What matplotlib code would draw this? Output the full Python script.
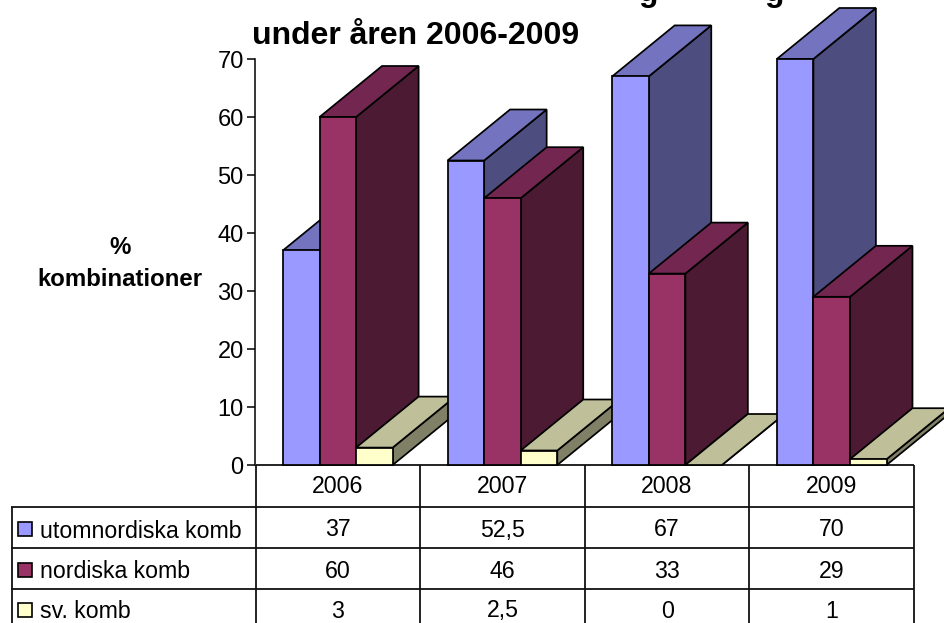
import matplotlib
matplotlib.use("Agg")
import matplotlib.pyplot as plt
from matplotlib.patches import Polygon, Rectangle

plt.rcParams['font.family'] = ['Liberation Sans', 'DejaVu Sans']

years = ['2006', '2007', '2008', '2009']
series_names = ['utomnordiska komb', 'nordiska komb', 'sv. komb']
utomnordiska = [37, 52.5, 67, 70]
nordiska = [60, 46, 33, 29]
svenska = [3, 2.5, 0, 1]
cell_labels = [['37', '52,5', '67', '70'], ['60', '46', '33', '29'], ['3', '2,5', '0', '1']]
series_values = [utomnordiska, nordiska, svenska]
front_colors = ['#9999FF', '#993366', '#FFFFCC']
top_colors = ['#7373BF', '#732650', '#BFBF99']
side_colors = ['#4D4D80', '#4D1A33', '#808066']
title_line = 'under åren 2006-2009'
ylabel_lines = ['%', 'kombinationer']

W, H = 945, 623
fig = plt.figure(figsize=(W / 100, H / 100), dpi=100, facecolor='white')

# pixel-space layer: table, labels, title
bg = fig.add_axes([0, 0, 1, 1], zorder=1)
bg.set_xlim(0, W)
bg.set_ylim(H, 0)
bg.axis('off')

# plot axes: x in categories, y in percent
L, R, T, B = 255.5, 914, 59, 465
ax = fig.add_axes([L / W, 1 - B / H, (R - L) / W, (B - T) / H], zorder=2)
ax.patch.set_alpha(0)
ax.set_xlim(0, 4)
ax.set_ylim(0, 70)
for s in ['top', 'right', 'bottom']:
    ax.spines[s].set_visible(False)
ax.spines['left'].set_linewidth(1.1)
ax.set_xticks([])
ax.set_yticks(range(0, 71, 10))
ax.tick_params(axis='y', length=5.5, width=1.1, labelsize=17, pad=3)

bar_w = 1 / 4.5
gap = bar_w * 0.75
dx = 62.5 / ((R - L) / 4)
dy = 51 / ((B - T) / 70)
edge = dict(edgecolor='black', linewidth=1.25, clip_on=False, joinstyle='miter')
z = 3
for c in range(len(years)):
    for s, vals in enumerate(series_values):
        x0 = c + gap + s * bar_w
        x1 = x0 + bar_w
        v = vals[c]
        ax.add_patch(Polygon([(x1, 0), (x1 + dx, dy), (x1 + dx, v + dy), (x1, v)],
                             facecolor=side_colors[s], zorder=z, **edge))
        ax.add_patch(Polygon([(x0, v), (x1, v), (x1 + dx, v + dy), (x0 + dx, v + dy)],
                             facecolor=top_colors[s], zorder=z, **edge))
        if v > 0:
            ax.bar(x0, v, width=bar_w, align='edge', color=front_colors[s], zorder=z, **edge)
        z += 1

# table
col_x = [L + i * (R - L) / 4 for i in range(5)]
row_y = [465, 507, 548, 589]
line = dict(color='#111111', lw=1.3, solid_capstyle='butt')
bg.plot([col_x[0], col_x[-1]], [row_y[0]] * 2, **line)
for y in row_y[1:]:
    bg.plot([11, col_x[-1]], [y, y], **line)
for x in col_x:
    bg.plot([x, x], [465, H], **line)
bg.plot([11.5, 11.5], [507, H], **line)

fs = 16.7
for i, y in enumerate(years):
    bg.text((col_x[i] + col_x[i + 1]) / 2, 486.5, y, ha='center', va='center', fontsize=fs)
rows_cy = [530, 571, 611]
for r, name in enumerate(series_names):
    cy = rows_cy[r]
    bg.add_patch(Rectangle((18, cy - 8), 14, 14, facecolor=front_colors[r], edgecolor='black', lw=1.2))
    bg.text(39.5, cy + 1, name, ha='left', va='center', fontsize=fs)
    for i in range(4):
        bg.text((col_x[i] + col_x[i + 1]) / 2, cy, cell_labels[r][i], ha='center', va='center', fontsize=fs)

# axis label
bg.text(120, 248, ylabel_lines[0], ha='center', va='center', fontsize=17.3, fontweight='bold')
bg.text(120, 280, ylabel_lines[1], ha='center', va='center', fontsize=17.3, fontweight='bold')

# title: the first line is cut off by the picture edge, only two descenders show
bg.text(252, 43.5, title_line, ha='left', va='baseline', fontsize=23, fontweight='bold')
for gx in (648, 775):
    bg.text(gx, 1, 'g', ha='center', va='baseline', fontsize=23, fontweight='bold')

fig.savefig('out.png', dpi=100)
